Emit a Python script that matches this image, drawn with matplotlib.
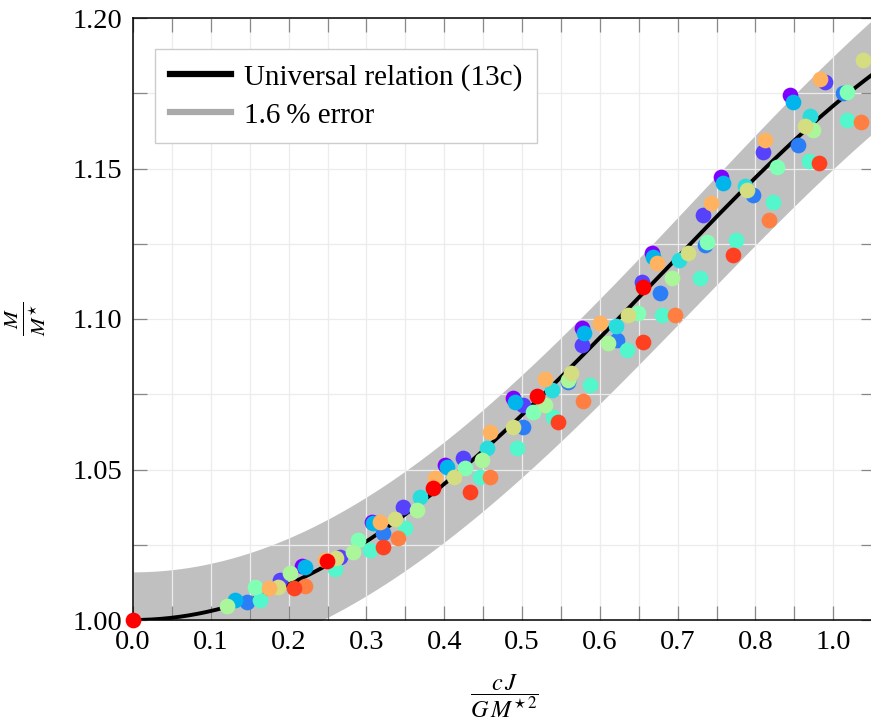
import matplotlib
matplotlib.use("Agg")
import numpy as np
import matplotlib.pyplot as plt
from matplotlib.lines import Line2D
from matplotlib.ticker import MultipleLocator, FixedLocator, FixedFormatter

plt.rcParams['font.family'] = ['Liberation Serif', 'DejaVu Serif']
plt.rcParams['mathtext.fontset'] = 'stix'

# ---------------- data ----------------
# universal relation (13c): M/M* = 1 + a j^2 + b j^4
rel_a = 0.30
rel_b = -0.11
# the grey band: +/- 1.6 % around the relation used for the error estimate
band_a = 0.28
band_b = -0.0888
error_frac = 0.016

x_ticks = [0.0, 0.1, 0.2, 0.3, 0.4, 0.5, 0.6, 0.7, 0.8, 0.9]
x_ticklabels = ["0.0", "0.1", "0.2", "0.3", "0.4", "0.5", "0.6", "0.7", "0.8", "1.0"]
y_ticks = [1.00, 1.05, 1.10, 1.15, 1.20]
y_ticklabels = ["1.00", "1.05", "1.10", "1.15", "1.20"]

# colour level k (k/12 on the rainbow map) -> points
lvl0_x = [0.217, 0.307, 0.401, 0.488, 0.577, 0.667, 0.756, 0.844]
lvl0_y = [1.0179, 1.0326, 1.0515, 1.0738, 1.0970, 1.1219, 1.1472, 1.1744]
lvl1_x = [0.189, 0.266, 0.347, 0.424, 0.501, 0.577, 0.654, 0.733, 0.810, 0.889]
lvl1_y = [1.0133, 1.0209, 1.0375, 1.0538, 1.0714, 1.0914, 1.1123, 1.1346, 1.1555, 1.1787]
lvl2_x = [0.147, 0.321, 0.501, 0.559, 0.622, 0.677, 0.735, 0.797, 0.855, 0.913]
lvl2_y = [1.0060, 1.0289, 1.0641, 1.0791, 1.0930, 1.1086, 1.1246, 1.1412, 1.1578, 1.1751]
lvl3_x = [0.131, 0.221, 0.308, 0.404, 0.491, 0.580, 0.668, 0.758, 0.848]
lvl3_y = [1.0066, 1.0176, 1.0322, 1.0508, 1.0724, 1.0953, 1.1206, 1.1452, 1.1721]
lvl4_x = [0.369, 0.455, 0.539, 0.621, 0.702, 0.787, 0.870]
lvl4_y = [1.0409, 1.0571, 1.0764, 1.0977, 1.1196, 1.1442, 1.1674]
lvl5_x = [0.163, 0.260, 0.305, 0.350, 0.446, 0.494, 0.540, 0.587, 0.635, 0.680,
          0.729, 0.775, 0.823, 0.869, 0.918]
lvl5_y = [1.0066, 1.0169, 1.0233, 1.0306, 1.0475, 1.0571, 1.0674, 1.0781, 1.0897, 1.1013,
          1.1136, 1.1262, 1.1389, 1.1525, 1.1661]
lvl6_x = [0.157, 0.289, 0.427, 0.514, 0.649, 0.738, 0.828, 0.918]
lvl6_y = [1.0110, 1.0266, 1.0505, 1.0691, 1.1020, 1.1256, 1.1505, 1.1754]
lvl7_x = [0.121, 0.202, 0.283, 0.365, 0.449, 0.530, 0.559, 0.611, 0.693, 0.874]
lvl7_y = [1.0047, 1.0156, 1.0226, 1.0365, 1.0532, 1.0714, 1.0797, 1.0920, 1.1136, 1.1628]
lvl8_x = [0.186, 0.261, 0.337, 0.413, 0.488, 0.563, 0.636, 0.713, 0.789, 0.864, 0.938]
lvl8_y = [1.0110, 1.0206, 1.0336, 1.0475, 1.0641, 1.0821, 1.1013, 1.1219, 1.1429, 1.1641, 1.1860]
lvl9_x = [0.175, 0.247, 0.317, 0.388, 0.459, 0.530, 0.600, 0.674, 0.743, 0.812, 0.883]
lvl9_y = [1.0106, 1.0199, 1.0326, 1.0472, 1.0625, 1.0801, 1.0987, 1.1186, 1.1385, 1.1595, 1.1797]
lvl10_x = [0.221, 0.341, 0.459, 0.578, 0.697, 0.817, 0.936]
lvl10_y = [1.0113, 1.0272, 1.0475, 1.0728, 1.1013, 1.1329, 1.1654]
lvl11_x = [0.207, 0.321, 0.433, 0.546, 0.656, 0.771, 0.882]
lvl11_y = [1.0106, 1.0243, 1.0425, 1.0658, 1.0924, 1.1213, 1.1518]
lvl12_x = [0.0, 0.249, 0.386, 0.519, 0.656]
lvl12_y = [1.0000, 1.0196, 1.0439, 1.0744, 1.1106]

levels_x = [lvl0_x, lvl1_x, lvl2_x, lvl3_x, lvl4_x, lvl5_x, lvl6_x, lvl7_x, lvl8_x,
            lvl9_x, lvl10_x, lvl11_x, lvl12_x]
levels_y = [lvl0_y, lvl1_y, lvl2_y, lvl3_y, lvl4_y, lvl5_y, lvl6_y, lvl7_y, lvl8_y,
            lvl9_y, lvl10_y, lvl11_y, lvl12_y]

# ---------------- figure ----------------
W, H = 871, 721
fig = plt.figure(figsize=(W / 100, H / 100), dpi=100)
ax = fig.add_axes([133 / W, 1 - 620 / H, 742 / W, 602 / H])

xmax = 742 / 778.0
ax.set_xlim(0, xmax)
ax.set_ylim(1.0, 1.2)

jj = np.linspace(0, xmax, 400)
band_c = 1 + band_a * jj**2 + band_b * jj**4
ax.fill_between(jj, band_c * (1 - error_frac), band_c * (1 + error_frac),
                color='#c0c0c0', linewidth=0, zorder=0.4)

rel = 1 + rel_a * jj**2 + rel_b * jj**4
ax.plot(jj, rel, color='black', lw=2.8, zorder=2, solid_capstyle='butt')

cmap = plt.cm.rainbow
nlev = len(levels_x) - 1
for k, (xs, ys) in enumerate(zip(levels_x, levels_y)):
    ax.scatter(xs, ys, s=128, color=cmap(k / nlev), linewidths=0, zorder=3, clip_on=False)

# ticks and grid
ax.xaxis.set_major_locator(FixedLocator(x_ticks))
ax.xaxis.set_major_formatter(FixedFormatter(x_ticklabels))
ax.xaxis.set_minor_locator(MultipleLocator(0.05))
ax.yaxis.set_major_locator(FixedLocator(y_ticks))
ax.yaxis.set_major_formatter(FixedFormatter(y_ticklabels))
ax.yaxis.set_minor_locator(MultipleLocator(0.025))

ax.tick_params(which='both', direction='in', length=10, width=0.9, color='#888888',
               top=True, right=True, labelsize=20.5)
ax.tick_params(axis='x', which='both', pad=7)
ax.tick_params(axis='y', which='both', pad=8)
ax.grid(True, which='both', color='#ececec', lw=0.9)
ax.set_axisbelow(True)

for s in ['left', 'bottom', 'top']:
    ax.spines[s].set_linewidth(1.1)
    ax.spines[s].set_color('black')
ax.spines['right'].set_visible(False)

ax.set_xlabel(r'$\dfrac{c\,J}{G\,M^{\star\,2}}$', fontsize=17.5)
ax.xaxis.set_label_coords(0.5, -0.0865)
ax.set_ylabel(r'$\frac{M}{M^{\star}}$', fontsize=22, rotation=90)
ax.yaxis.set_label_coords(-0.115, 0.5)

handles = [Line2D([], [], color='black', lw=4.5),
           Line2D([], [], color='#aaaaaa', lw=4.5)]
leg = ax.legend(handles, ['Universal relation (13c)', '1.6\u2009% error'],
                loc='upper left', bbox_to_anchor=(22 / 742, 1 - 31 / 602),
                borderaxespad=0, fontsize=21, frameon=True, fancybox=False,
                framealpha=1, edgecolor='#cccccc', handlelength=2.1,
                handletextpad=0.45, labelspacing=0.4, borderpad=0.5)
leg.get_frame().set_linewidth(1.0)

fig.savefig('out.png', dpi=100)
